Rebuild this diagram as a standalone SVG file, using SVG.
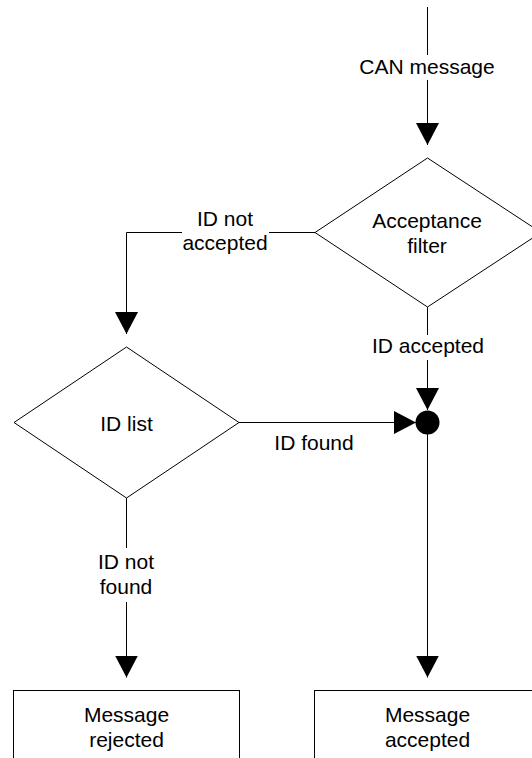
<svg xmlns="http://www.w3.org/2000/svg" width="532" height="758" viewBox="0 0 532 758">
  <style>
    .shape { fill: #fff; stroke: #000; stroke-width: 1; }
    .wire { fill: none; stroke: #000; stroke-width: 1; }
    .lbl { font-family: "Liberation Sans", Arial, sans-serif; font-size: 21px; fill: #000; text-anchor: middle; }
  </style>
  <defs>
    <marker id="arrow" markerUnits="userSpaceOnUse" markerWidth="23" markerHeight="23" refX="22" refY="11.5" orient="auto" viewBox="0 0 23 23">
      <path d="M0,0 L22,11.5 L0,23 Z" fill="#000"/>
    </marker>
  </defs>
  <rect width="532" height="758" fill="#fff"/>

  <!-- connectors -->
  <g id="connectors">
    <path class="wire" d="M427.5,7 V55 M427.5,80 V145" marker-end="url(#arrow)"/>
    <path class="wire" d="M315,232.5 H269 M182,232.5 H126.5 V334" marker-end="url(#arrow)"/>
    <path class="wire" d="M427.5,307 V335 M427.5,360 V410" marker-end="url(#arrow)"/>
    <path class="wire" d="M239,422.5 H416" marker-end="url(#arrow)"/>
    <path class="wire" d="M126.5,498 V548 M126.5,602 V677.5" marker-end="url(#arrow)"/>
    <path class="wire" d="M427.5,434 V677.5" marker-end="url(#arrow)"/>
    <circle id="junction" cx="427.5" cy="422.5" r="12" fill="#000"/>
    <text class="lbl" x="427" y="74">CAN message</text>
    <text class="lbl" x="225" y="226">ID not</text>
    <text class="lbl" x="225" y="250">accepted</text>
    <text class="lbl" x="428" y="353">ID accepted</text>
    <text class="lbl" x="314" y="450">ID found</text>
    <text class="lbl" x="126" y="569">ID not</text>
    <text class="lbl" x="126" y="594">found</text>
  </g>

  <!-- decision: acceptance filter -->
  <g id="acceptance-filter">
    <polygon class="shape" points="427.5,158 541,232.5 427.5,307 315,232.5"/>
    <text class="lbl" x="427" y="228">Acceptance</text>
    <text class="lbl" x="427" y="253">filter</text>
  </g>

  <!-- decision: ID list -->
  <g id="id-list">
    <polygon class="shape" points="126.5,347 239,422.5 126.5,498 14,422.5"/>
    <text class="lbl" x="126.5" y="431">ID list</text>
  </g>

  <!-- outcomes -->
  <g id="message-rejected">
    <rect class="shape" x="13.5" y="690.5" width="226" height="80"/>
    <text class="lbl" x="126.5" y="722">Message</text>
    <text class="lbl" x="126.5" y="747">rejected</text>
  </g>
  <g id="message-accepted">
    <rect class="shape" x="314.5" y="690.5" width="226" height="80"/>
    <text class="lbl" x="427.5" y="722">Message</text>
    <text class="lbl" x="427.5" y="747">accepted</text>
  </g>
</svg>
